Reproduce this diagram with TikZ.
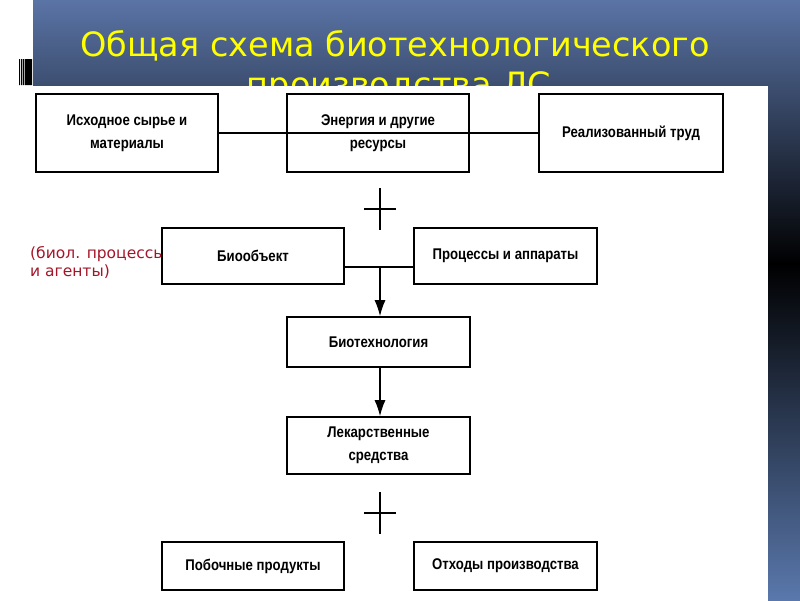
\documentclass[tikz,border=0pt]{standalone}
\usepackage{fontspec}
\setmainfont{Liberation Sans}
\newfontfamily\titlefont{DejaVu Sans}
\newfontfamily\notefont{DejaVu Sans}
\newfontfamily\boxfont[FakeStretch=0.85]{Liberation Sans}
\usetikzlibrary{positioning}
\usetikzlibrary{arrows.meta}
\definecolor{bgtop}{HTML}{5A74A6}
\definecolor{bgbot}{HTML}{5A78AC}
\definecolor{titleyellow}{HTML}{FFFF00}
\definecolor{notered}{HTML}{A3162A}
\tikzset{x=1pt, y=-1pt,
>={Latex[length=16pt,width=11pt]},
block/.style={ % boxes of the scheme
draw, line width=1.6pt,
fill=white,
inner sep=0pt,
align=center,
font=\boxfont\bfseries\fontsize{15.5}{23}\selectfont},
title/.style={text=titleyellow, anchor=base, inner sep=0pt,
font=\titlefont\fontsize{33.5}{38}\selectfont},
plussign/.style={ % the "+" between the rows
inner sep=0pt, minimum width=32pt, minimum height=42pt,
path picture={\draw[line width=1.4pt]
(path picture bounding box.north) -- (path picture bounding box.south)
(path picture bounding box.west) -- (path picture bounding box.east);}},
every edge/.style={ % arrows down the column
draw,
->,
line width=1.4pt}}
\begin{document}
\begin{tikzpicture}
\useasboundingbox (0,0) rectangle (800,600);
% slide background
\fill[white] (0,0) rectangle (800,600);
\shade[top color=bgtop, bottom color=black] (33,0) rectangle (800,264);
\shade[top color=black, bottom color=bgbot] (33,263) rectangle (800,600);
\fill[black] (19,59) rectangle (20.2,85) (21.2,59) rectangle (22.4,85)
(23.2,59) rectangle (23.8,85) (24.5,59) rectangle (32,85);
\node[title] (T1) at (395,56) {Общая схема биотехнологического};
\node[title] (T2) at (399,96) {производства ЛС};
\fill[white] (33,86) rectangle (768,602);
\node[anchor=north west, align=left, inner sep=0pt, text=notered,
font=\notefont\fontsize{15.5}{18}\selectfont] (N) at (30,246) {(биол. процессы\\и агенты)};
% first row
\node[block, minimum width=182pt, minimum height=78pt] (A) at (127,133) {Исходное сырье и\\материалы};
\node[block, minimum width=182pt, minimum height=78pt] (B) at (378,133) {Энергия и другие\\ресурсы};
\node[block, minimum width=184pt, minimum height=78pt] (C) at (631,133) {Реализованный труд};
\node[plussign] (P1) at (380,209) {};
% second row
\node[block, minimum width=182pt, minimum height=56pt] (D) at (253,256) {Биообъект};
\node[block, minimum width=183pt, minimum height=56pt] (E) at (505.5,256) {Процессы и аппараты};
\coordinate (J) at (380,267);
\node[block, minimum width=183pt, minimum height=50pt] (F) at (378.5,342) {Биотехнология};
\node[block, minimum width=183pt, minimum height=57pt] (G) at (378.5,445.5) {Лекарственные\\средства};
\node[plussign] (P2) at (380,513) {};
\node[block, minimum width=182pt, minimum height=48pt] (H) at (253,566) {Побочные продукты};
\node[block, minimum width=183pt, minimum height=48pt] (I) at (505.5,566) {Отходы производства};
\draw[line width=1.4pt] (A.east) -- (C.west);
\draw[line width=1.4pt] (D.east |- J) -- (E.west |- J);
\draw (J) edge (J |- F.north);
\draw (J |- F.south) edge (J |- G.north);
\end{tikzpicture}
\end{document}
